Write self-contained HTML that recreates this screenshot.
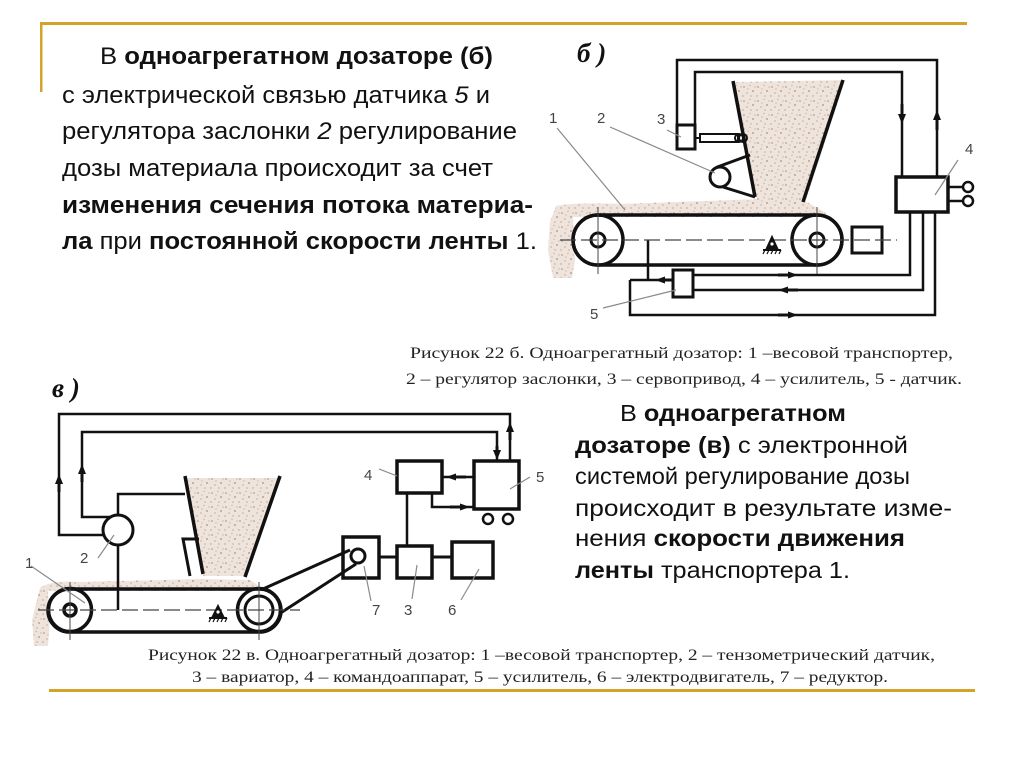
<!DOCTYPE html>
<html><head><meta charset="utf-8">
<style>html,body{margin:0;padding:0;background:#fff;}svg{display:block}</style>
</head><body>
<svg width="1024" height="767" viewBox="0 0 1024 767" xmlns="http://www.w3.org/2000/svg">
<defs>
<pattern id="sand" width="14" height="14" patternUnits="userSpaceOnUse">
<rect width="14" height="14" fill="#efe4dc"/>
<circle cx="2" cy="3" r="0.9" fill="#b89f92"/>
<circle cx="8" cy="1.5" r="0.7" fill="#c9b2a6"/>
<circle cx="11" cy="7" r="0.9" fill="#a88f82"/>
<circle cx="5" cy="9" r="0.8" fill="#c2aa9d"/>
<circle cx="1" cy="12" r="0.7" fill="#b39b8e"/>
<circle cx="9" cy="12" r="0.9" fill="#cdb8ac"/>
<circle cx="13" cy="3" r="0.6" fill="#b9a194"/>
<circle cx="6" cy="5" r="0.5" fill="#9f877b"/>
</pattern>
</defs>
<rect width="1024" height="767" fill="#fff"/>

<!-- frame -->
<rect x="40" y="22" width="927" height="3" fill="#d3a42c"/>
<rect x="40" y="22" width="2.5" height="70" fill="#d3a42c"/>
<rect x="49" y="689" width="926" height="3" fill="#d3a42c"/>

<!-- left text -->
<g font-family="Liberation Sans, Arial, sans-serif" font-size="24" fill="#111">
<text x="100" y="64" textLength="393" lengthAdjust="spacingAndGlyphs">В <tspan font-weight="bold">одноагрегатном дозаторе (б)</tspan></text>
<text x="62" y="103" textLength="428" lengthAdjust="spacingAndGlyphs">с электрической связью датчика <tspan font-style="italic">5</tspan> и</text>
<text x="62" y="139" textLength="455" lengthAdjust="spacingAndGlyphs">регулятора заслонки <tspan font-style="italic">2</tspan> регулирование</text>
<text x="62" y="176" textLength="431" lengthAdjust="spacingAndGlyphs">дозы материала происходит за счет</text>
<text x="62" y="213" textLength="471" lengthAdjust="spacingAndGlyphs" font-weight="bold">изменения сечения  потока материа-</text>
<text x="62" y="249" textLength="475" lengthAdjust="spacingAndGlyphs"><tspan font-weight="bold">ла</tspan> при <tspan font-weight="bold">постоянной скорости ленты</tspan> 1.</text>
</g>

<!-- right text -->
<g font-family="Liberation Sans, Arial, sans-serif" font-size="23" fill="#111">
<text x="620" y="421" textLength="226" lengthAdjust="spacingAndGlyphs">В <tspan font-weight="bold">одноагрегатном</tspan></text>
<text x="575" y="453" textLength="333" lengthAdjust="spacingAndGlyphs"><tspan font-weight="bold">дозаторе (в)</tspan> с электронной</text>
<text x="575" y="484" textLength="335" lengthAdjust="spacingAndGlyphs">системой регулирование дозы</text>
<text x="575" y="516" textLength="377" lengthAdjust="spacingAndGlyphs">происходит в результате изме-</text>
<text x="575" y="546" textLength="330" lengthAdjust="spacingAndGlyphs">нения <tspan font-weight="bold">скорости движения</tspan></text>
<text x="575" y="578" textLength="275" lengthAdjust="spacingAndGlyphs"><tspan font-weight="bold">ленты</tspan> транспортера 1.</text>
</g>

<!-- captions -->
<g font-family="Liberation Serif, serif" font-size="16" fill="#222">
<text x="410" y="358" textLength="543" lengthAdjust="spacingAndGlyphs">Рисунок 22 б. Одноагрегатный дозатор: 1 –весовой транспортер,</text>
<text x="406" y="384" textLength="556" lengthAdjust="spacingAndGlyphs">2 – регулятор заслонки, 3 – сервопривод, 4 – усилитель, 5 - датчик.</text>
<text x="148" y="660" textLength="787" lengthAdjust="spacingAndGlyphs">Рисунок 22 в. Одноагрегатный дозатор: 1 –весовой транспортер, 2 – тензометрический датчик,</text>
<text x="192" y="682" textLength="696" lengthAdjust="spacingAndGlyphs">3 – вариатор, 4 – командоаппарат, 5 – усилитель, 6 – электродвигатель, 7 – редуктор.</text>
</g>

<!-- section labels -->
<g font-family="Liberation Serif, serif" font-size="27" font-weight="bold" font-style="italic" fill="#111">
<text x="577" y="62">б )</text>
<text x="52" y="397">в )</text>
</g>

<!-- ===== Diagram б ===== -->
<!-- sand -->
<polygon points="735,82 845,80 805,203 757,200" fill="url(#sand)"/>
<path d="M556,206 Q575,202 620,204 L760,199 L805,201 L826,213 L826,217 L573,217 L575,260 L572,278 L553,278 L548,250 L550,222 Z" fill="url(#sand)"/>

<g stroke="#111" fill="none" stroke-linejoin="miter">
<polyline points="677,125 677,60 937,60 937,177" stroke-width="2.5"/>
<polyline points="695,125 695,72 902,72 902,177" stroke-width="2.5"/>
<rect x="896" y="177" width="52" height="35" stroke-width="3.5"/>
<line x1="948" y1="187" x2="963" y2="187" stroke-width="2.5"/>
<line x1="948" y1="201" x2="963" y2="201" stroke-width="2.5"/>
<circle cx="968" cy="187" r="5" stroke-width="2.5"/>
<circle cx="968" cy="201" r="5" stroke-width="2.5"/>
<rect x="677" y="125" width="18" height="24" stroke-width="3"/>
<line x1="695" y1="138" x2="700" y2="138" stroke-width="2"/>
<rect x="700" y="134" width="38" height="8" stroke-width="2"/>
<circle cx="739" cy="138" r="4" stroke-width="2"/>
<circle cx="743" cy="138" r="4" stroke-width="2"/>
<line x1="733" y1="81" x2="755" y2="197" stroke-width="3.5"/>
<line x1="843" y1="80" x2="803" y2="202" stroke-width="3.5"/>
<circle cx="720" cy="177" r="10" stroke-width="3"/>
<line x1="716" y1="167.5" x2="750" y2="155" stroke-width="3"/>
<line x1="723" y1="187" x2="755" y2="197" stroke-width="3"/>
<rect x="573" y="215" width="269" height="50" rx="25" stroke-width="3.5"/>
<circle cx="598" cy="240" r="25" stroke-width="3.5"/>
<circle cx="598" cy="240" r="7" stroke-width="3"/>
<circle cx="817" cy="240" r="25" stroke-width="3.5"/>
<circle cx="817" cy="240" r="7" stroke-width="3"/>
<rect x="852" y="227" width="30" height="26" stroke-width="3"/>
<rect x="673" y="270" width="20" height="27" stroke-width="3"/>
<polyline points="648,240 648,280" stroke-width="2.5"/>
<polyline points="630,280 673,280" stroke-width="2.5"/>
<polyline points="630,280 630,315 935,315 935,212" stroke-width="2.5"/>
<polyline points="693,275 910,275 910,212" stroke-width="2.5"/>
<polyline points="693,290 923,290 923,212" stroke-width="2.5"/>
</g>
<line x1="560" y1="240" x2="897" y2="240" stroke="#444" stroke-width="1.2" stroke-dasharray="16 5"/>
<line x1="598" y1="207" x2="598" y2="274" stroke="#444" stroke-width="1"/>
<line x1="817" y1="207" x2="817" y2="274" stroke="#444" stroke-width="1"/>
<!-- weighing symbol -->
<g fill="#111" stroke="#111">
<polygon points="766,249 772,236 778,249" stroke-width="1"/>
<circle cx="772" cy="244" r="1.6" fill="#fff" stroke="none"/>
<line x1="763" y1="250" x2="781" y2="250" stroke-width="2"/>
<path d="M765,250 l-2,4 M769,250 l-2,4 M773,250 l-2,4 M777,250 l-2,4 M781,250 l-2,4" stroke-width="1.2" fill="none"/>
</g>
<!-- arrows б -->
<g fill="#111">
<path d="M900.5,104 h3 v10 h2.5 L902,124 L898,114 h2.5 Z"/>
<path d="M935.5,130 h3 v-10 h2.5 L937,110 L933,120 h2.5 Z"/>
<path d="M655,280 L665,276.5 V278.5 H672 V281.5 H665 V283.5 Z"/>
<path d="M798,275 L788,271.5 V273.5 H778 V276.5 H788 V278.5 Z"/>
<path d="M778,290 L788,286.5 V288.5 H798 V291.5 H788 V293.5 Z"/>
<path d="M798,315 L788,311.5 V313.5 H778 V316.5 H788 V318.5 Z"/>
</g>
<!-- labels б -->
<g font-family="Liberation Sans, Arial, sans-serif" font-size="15" fill="#444">
<text x="549" y="123">1</text>
<text x="597" y="123">2</text>
<text x="657" y="124">3</text>
<text x="965" y="154">4</text>
<text x="590" y="319">5</text>
</g>
<g stroke="#8a8a8a" stroke-width="1.2">
<line x1="557" y1="128" x2="625" y2="210"/>
<line x1="610" y1="127" x2="715" y2="173"/>
<line x1="667" y1="130" x2="681" y2="137"/>
<line x1="958" y1="160" x2="935" y2="195"/>
<line x1="603" y1="308" x2="676" y2="290"/>
</g>

<!-- ===== Diagram в ===== -->
<polygon points="187,478 279,478 246,576 203,576" fill="url(#sand)"/>
<path d="M40,588 Q50,580 80,582 L200,579 L250,580 L262,588 L262,591 L48,591 L50,620 L48,646 L34,646 L32,620 Z" fill="url(#sand)"/>

<g stroke="#111" fill="none">
<polyline points="103,535 59,535 59,414 510,414 510,461" stroke-width="2.5"/>
<polyline points="110,517 82,517 82,432 497,432 497,461" stroke-width="2.5"/>
<circle cx="118" cy="530" r="15" stroke-width="3"/>
<polyline points="118,515 118,494 185,494" stroke-width="2.5"/>
<line x1="118" y1="545" x2="118" y2="610" stroke-width="2.5"/>
<line x1="185" y1="476" x2="203" y2="574" stroke-width="3.5"/>
<line x1="280" y1="476" x2="245" y2="577" stroke-width="3.5"/>
<polyline points="199,539 183,539 190,576" stroke-width="3"/>
<rect x="48" y="589" width="233" height="43" rx="21.5" stroke-width="3.5"/>
<circle cx="70" cy="610" r="21.5" stroke-width="3.5"/>
<circle cx="70" cy="610" r="6" stroke-width="3.5"/>
<circle cx="259" cy="610" r="21.5" stroke-width="3.5"/>
<circle cx="259" cy="610" r="14" stroke-width="3"/>
<line x1="263" y1="589" x2="350" y2="550" stroke-width="3"/>
<line x1="279" y1="614" x2="356" y2="564" stroke-width="3"/>
<rect x="343" y="537" width="36" height="41" stroke-width="3.5"/>
<circle cx="358" cy="556" r="7" stroke-width="3"/>
<rect x="397" y="546" width="35" height="32" stroke-width="3.5"/>
<rect x="452" y="542" width="41" height="36" stroke-width="3.5"/>
<line x1="379" y1="557" x2="397" y2="557" stroke-width="3"/>
<line x1="432" y1="557" x2="452" y2="557" stroke-width="3"/>
<line x1="407" y1="546" x2="407" y2="493" stroke-width="2.5"/>
<rect x="397" y="461" width="45" height="32" stroke-width="3.5"/>
<rect x="474" y="461" width="45" height="48" stroke-width="3.5"/>
<line x1="474" y1="477" x2="442" y2="477" stroke-width="2.5"/>
<polyline points="432,493 432,507 474,507" stroke-width="2.5"/>
<circle cx="488" cy="519" r="5" stroke-width="2.5"/>
<circle cx="508" cy="519" r="5" stroke-width="2.5"/>
</g>
<line x1="38" y1="610" x2="300" y2="610" stroke="#444" stroke-width="1.2" stroke-dasharray="16 5"/>
<line x1="70" y1="582" x2="70" y2="640" stroke="#444" stroke-width="1"/>
<line x1="259" y1="582" x2="259" y2="640" stroke="#444" stroke-width="1"/>
<g fill="#111" stroke="#111">
<polygon points="212,617 218,605 224,617" stroke-width="1"/>
<circle cx="218" cy="612" r="1.6" fill="#fff" stroke="none"/>
<line x1="209" y1="618" x2="227" y2="618" stroke-width="2"/>
<path d="M211,618 l-2,4 M215,618 l-2,4 M219,618 l-2,4 M223,618 l-2,4 M227,618 l-2,4" stroke-width="1.2" fill="none"/>
</g>
<!-- arrows в -->
<g fill="#111">
<path d="M57.5,492 h3 v-8 h2.5 L59,474 L55,484 h2.5 Z"/>
<path d="M80.5,482 h3 v-8 h2.5 L82,464 L78,474 h2.5 Z"/>
<path d="M508.5,440 h3 v-8 h2.5 L510,422 L506,432 h2.5 Z"/>
<path d="M495.5,446 h3 v4 h2.5 L497,460 L493,450 h2.5 Z"/>
<path d="M446,477 L456,473.5 V475.5 H466 V478.5 H456 V480.5 Z"/>
<path d="M470,507 L460,503.5 V505.5 H450 V508.5 H460 V510.5 Z"/>
</g>
<g font-family="Liberation Sans, Arial, sans-serif" font-size="15" fill="#444">
<text x="25" y="568">1</text>
<text x="80" y="563">2</text>
<text x="364" y="480">4</text>
<text x="536" y="482">5</text>
<text x="372" y="615">7</text>
<text x="404" y="615">3</text>
<text x="448" y="615">6</text>
</g>
<g stroke="#8a8a8a" stroke-width="1.2">
<line x1="31" y1="566" x2="85" y2="603"/>
<line x1="98" y1="558" x2="114" y2="535"/>
<line x1="379" y1="469" x2="397" y2="476"/>
<line x1="530" y1="477" x2="510" y2="489"/>
<line x1="371" y1="601" x2="364" y2="566"/>
<line x1="412" y1="599" x2="417" y2="565"/>
<line x1="461" y1="600" x2="479" y2="569"/>
</g>
</svg>
</body></html>
